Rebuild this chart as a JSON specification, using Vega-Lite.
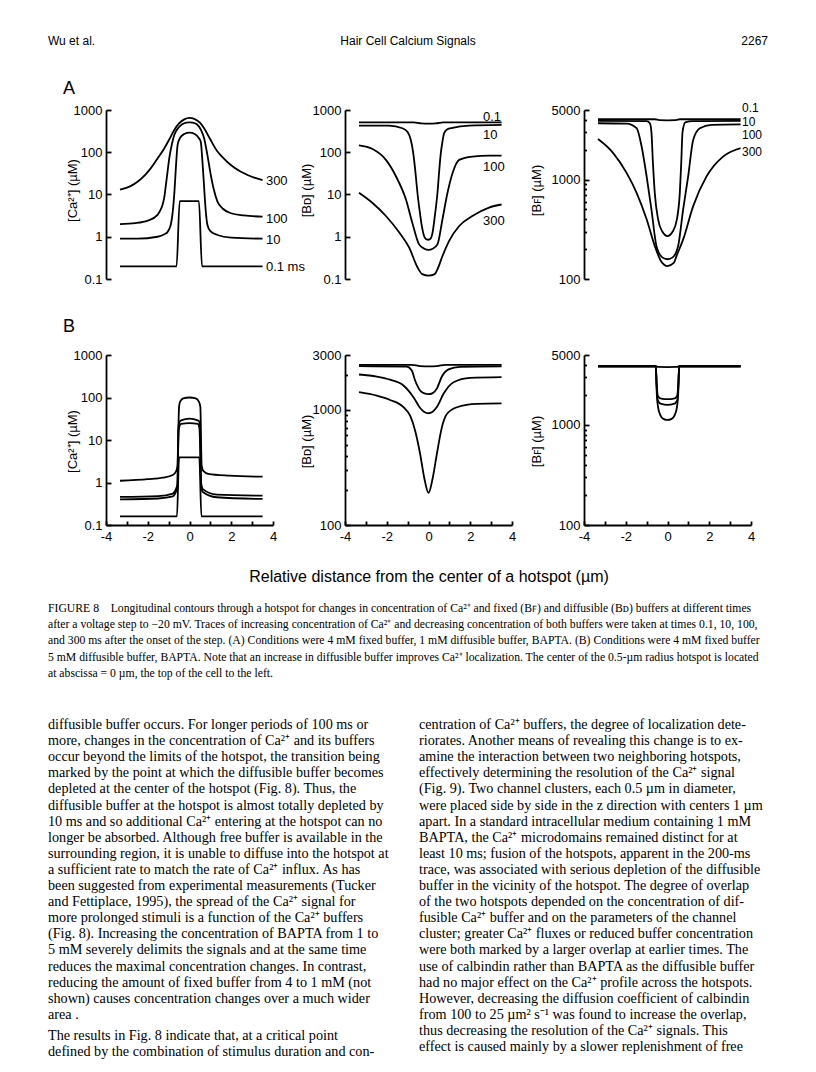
{
"$schema":"https://vega.github.io/schema/vega-lite/v6.json",
"background":"white",
"padding":{"left":48,"top":0,"right":0,"bottom":0},
"autosize":{"type":"pad"},
"columns":3,
"spacing":{"row":76,"column":72},
"bounds":"flush",
"config":{
 "view":{"stroke":null},
 "axis":{"domainColor":"#000","domainWidth":1.8,"tickColor":"#000","tickWidth":1.8,"labelFont":"Liberation Sans","labelFontSize":13,"labelColor":"#000","titleFont":"Liberation Sans","titleFontSize":13,"titleFontWeight":"normal","titleColor":"#000","grid":false,"labelFlush":false,"labelOverlap":false},
 "title":{"font":"Liberation Sans","fontSize":18,"fontWeight":"normal","color":"#000","anchor":"start","frame":"group"},
 "line":{"color":"#000","strokeWidth":1.8},
 "text":{"color":"#000"}
},
"datasets":{
"header":[{"slot":"l","line":0,"txt":"Wu et al."},{"slot":"c","line":0,"txt":"Hair Cell Calcium Signals"},{"slot":"r","line":0,"txt":"2267"}],
"caption":[
{"line":0,"txt":"FIGURE 8\u2003Longitudinal contours through a hotspot for changes in concentration of Ca²⁺ and fixed (Bꜰ) and diffusible (Bᴅ) buffers at different times"},
{"line":1,"txt":"after a voltage step to −20 mV. Traces of increasing concentration of Ca²⁺ and decreasing concentration of both buffers were taken at times 0.1, 10, 100,"},
{"line":2,"txt":"and 300 ms after the onset of the step. (A) Conditions were 4 mM fixed buffer, 1 mM diffusible buffer, BAPTA. (B) Conditions were 4 mM fixed buffer"},
{"line":3,"txt":"5 mM diffusible buffer, BAPTA. Note that an increase in diffusible buffer improves Ca²⁺ localization. The center of the 0.5-µm radius hotspot is located"},
{"line":4,"txt":"at abscissa = 0 µm, the top of the cell to the left."}
],
"body":[
{"col":"L","line":0,"txt":"diffusible buffer occurs. For longer periods of 100 ms or"},
{"col":"L","line":1,"txt":"more, changes in the concentration of Ca²⁺ and its buffers"},
{"col":"L","line":2,"txt":"occur beyond the limits of the hotspot, the transition being"},
{"col":"L","line":3,"txt":"marked by the point at which the diffusible buffer becomes"},
{"col":"L","line":4,"txt":"depleted at the center of the hotspot (Fig. 8). Thus, the"},
{"col":"L","line":5,"txt":"diffusible buffer at the hotspot is almost totally depleted by"},
{"col":"L","line":6,"txt":"10 ms and so additional Ca²⁺ entering at the hotspot can no"},
{"col":"L","line":7,"txt":"longer be absorbed. Although free buffer is available in the"},
{"col":"L","line":8,"txt":"surrounding region, it is unable to diffuse into the hotspot at"},
{"col":"L","line":9,"txt":"a sufficient rate to match the rate of Ca²⁺ influx. As has"},
{"col":"L","line":10,"txt":"been suggested from experimental measurements (Tucker"},
{"col":"L","line":11,"txt":"and Fettiplace, 1995), the spread of the Ca²⁺ signal for"},
{"col":"L","line":12,"txt":"more prolonged stimuli is a function of the Ca²⁺ buffers"},
{"col":"L","line":13,"txt":"(Fig. 8). Increasing the concentration of BAPTA from 1 to"},
{"col":"L","line":14,"txt":"5 mM severely delimits the signals and at the same time"},
{"col":"L","line":15,"txt":"reduces the maximal concentration changes. In contrast,"},
{"col":"L","line":16,"txt":"reducing the amount of fixed buffer from 4 to 1 mM (not"},
{"col":"L","line":17,"txt":"shown) causes concentration changes over a much wider"},
{"col":"L","line":18,"txt":"area ."},
{"col":"L","line":19.3,"txt":"\u2003The results in Fig. 8 indicate that, at a critical point"},
{"col":"L","line":20.3,"txt":"defined by the combination of stimulus duration and con-"},
{"col":"R","line":0,"txt":"centration of Ca²⁺ buffers, the degree of localization dete-"},
{"col":"R","line":1,"txt":"riorates. Another means of revealing this change is to ex-"},
{"col":"R","line":2,"txt":"amine the interaction between two neighboring hotspots,"},
{"col":"R","line":3,"txt":"effectively determining the resolution of the Ca²⁺ signal"},
{"col":"R","line":4,"txt":"(Fig. 9). Two channel clusters, each 0.5 µm in diameter,"},
{"col":"R","line":5,"txt":"were placed side by side in the z direction with centers 1 µm"},
{"col":"R","line":6,"txt":"apart. In a standard intracellular medium containing 1 mM"},
{"col":"R","line":7,"txt":"BAPTA, the Ca²⁺ microdomains remained distinct for at"},
{"col":"R","line":8,"txt":"least 10 ms; fusion of the hotspots, apparent in the 200-ms"},
{"col":"R","line":9,"txt":"trace, was associated with serious depletion of the diffusible"},
{"col":"R","line":10,"txt":"buffer in the vicinity of the hotspot. The degree of overlap"},
{"col":"R","line":11,"txt":"of the two hotspots depended on the concentration of dif-"},
{"col":"R","line":12,"txt":"fusible Ca²⁺ buffer and on the parameters of the channel"},
{"col":"R","line":13,"txt":"cluster; greater Ca²⁺ fluxes or reduced buffer concentration"},
{"col":"R","line":14,"txt":"were both marked by a larger overlap at earlier times. The"},
{"col":"R","line":15,"txt":"use of calbindin rather than BAPTA as the diffusible buffer"},
{"col":"R","line":16,"txt":"had no major effect on the Ca²⁺ profile across the hotspots."},
{"col":"R","line":17,"txt":"However, decreasing the diffusion coefficient of calbindin"},
{"col":"R","line":18,"txt":"from 100 to 25 µm² s⁻¹ was found to increase the overlap,"},
{"col":"R","line":19,"txt":"thus decreasing the resolution of the Ca²⁺ signals. This"},
{"col":"R","line":20,"txt":"effect is caused mainly by a slower replenishment of free"}
],
"labels":[
{"p":"A1","label":"300","x":3.66,"y":21},{"p":"A1","label":"100","x":3.66,"y":2.7},{"p":"A1","label":"10","x":3.66,"y":0.82},{"p":"A1","label":"0.1 ms","x":3.66,"y":0.19},
{"p":"A2","label":"0.1","x":2.61,"y":700},{"p":"A2","label":"10","x":2.61,"y":258},{"p":"A2","label":"100","x":2.61,"y":45},{"p":"A2","label":"300","x":2.61,"y":2.3},
{"p":"A3","label":"0.1","x":3.57,"y":5250},{"p":"A3","label":"10","x":3.57,"y":3750},{"p":"A3","label":"100","x":3.57,"y":2800},{"p":"A3","label":"300","x":3.57,"y":1900}
],
"curves":[
{"p":"A1","t":"0.1","x":-3.33,"y":0.2},{"p":"A1","t":"0.1","x":-0.62,"y":0.2},{"p":"A1","t":"0.1","x":-0.47,"y":7},{"p":"A1","t":"0.1","x":0.45,"y":7},{"p":"A1","t":"0.1","x":0.6,"y":0.2},{"p":"A1","t":"0.1","x":3.5,"y":0.2},
{"p":"A1","t":"10","x":-3.33,"y":0.9},{"p":"A1","t":"10","x":-2.5,"y":0.9},{"p":"A1","t":"10","x":-1.53,"y":1.0},{"p":"A1","t":"10","x":-1.2,"y":1.15},{"p":"A1","t":"10","x":-1.05,"y":1.3},{"p":"A1","t":"10","x":-0.95,"y":1.6},{"p":"A1","t":"10","x":-0.89,"y":2.0},{"p":"A1","t":"10","x":-0.8,"y":4},{"p":"A1","t":"10","x":-0.72,"y":12},{"p":"A1","t":"10","x":-0.65,"y":45},{"p":"A1","t":"10","x":-0.57,"y":150},{"p":"A1","t":"10","x":-0.45,"y":220},{"p":"A1","t":"10","x":-0.25,"y":270},{"p":"A1","t":"10","x":0,"y":290},{"p":"A1","t":"10","x":0.25,"y":270},{"p":"A1","t":"10","x":0.45,"y":215},{"p":"A1","t":"10","x":0.54,"y":178},{"p":"A1","t":"10","x":0.62,"y":60},{"p":"A1","t":"10","x":0.7,"y":15},{"p":"A1","t":"10","x":0.78,"y":4},{"p":"A1","t":"10","x":0.86,"y":1.9},{"p":"A1","t":"10","x":1.0,"y":1.35},{"p":"A1","t":"10","x":1.34,"y":1.1},{"p":"A1","t":"10","x":2.0,"y":0.95},{"p":"A1","t":"10","x":3.5,"y":0.9},
{"p":"A1","t":"100","x":-3.33,"y":2.0},{"p":"A1","t":"100","x":-2.6,"y":2.1},{"p":"A1","t":"100","x":-2.0,"y":2.4},{"p":"A1","t":"100","x":-1.53,"y":3.3},{"p":"A1","t":"100","x":-1.4,"y":4.2},{"p":"A1","t":"100","x":-1.29,"y":5.7},{"p":"A1","t":"100","x":-1.2,"y":9},{"p":"A1","t":"100","x":-1.13,"y":17},{"p":"A1","t":"100","x":-1.05,"y":35},{"p":"A1","t":"100","x":-0.97,"y":72},{"p":"A1","t":"100","x":-0.85,"y":150},{"p":"A1","t":"100","x":-0.73,"y":256},{"p":"A1","t":"100","x":-0.55,"y":370},{"p":"A1","t":"100","x":-0.35,"y":460},{"p":"A1","t":"100","x":-0.15,"y":505},{"p":"A1","t":"100","x":0,"y":512},{"p":"A1","t":"100","x":0.15,"y":505},{"p":"A1","t":"100","x":0.35,"y":460},{"p":"A1","t":"100","x":0.55,"y":340},{"p":"A1","t":"100","x":0.7,"y":214},{"p":"A1","t":"100","x":0.85,"y":90},{"p":"A1","t":"100","x":1.02,"y":29},{"p":"A1","t":"100","x":1.15,"y":14},{"p":"A1","t":"100","x":1.34,"y":6.8},{"p":"A1","t":"100","x":1.6,"y":4.6},{"p":"A1","t":"100","x":1.98,"y":3.6},{"p":"A1","t":"100","x":2.6,"y":3.2},{"p":"A1","t":"100","x":3.5,"y":3.0},
{"p":"A1","t":"300","x":-3.33,"y":13},{"p":"A1","t":"300","x":-2.8,"y":16},{"p":"A1","t":"300","x":-2.49,"y":20},{"p":"A1","t":"300","x":-2.1,"y":30},{"p":"A1","t":"300","x":-1.85,"y":42},{"p":"A1","t":"300","x":-1.5,"y":75},{"p":"A1","t":"300","x":-1.21,"y":123},{"p":"A1","t":"300","x":-0.95,"y":210},{"p":"A1","t":"300","x":-0.73,"y":337},{"p":"A1","t":"300","x":-0.5,"y":480},{"p":"A1","t":"300","x":-0.25,"y":600},{"p":"A1","t":"300","x":0,"y":650},{"p":"A1","t":"300","x":0.25,"y":610},{"p":"A1","t":"300","x":0.5,"y":500},{"p":"A1","t":"300","x":0.7,"y":370},{"p":"A1","t":"300","x":1.0,"y":200},{"p":"A1","t":"300","x":1.34,"y":104},{"p":"A1","t":"300","x":1.6,"y":75},{"p":"A1","t":"300","x":1.98,"y":50},{"p":"A1","t":"300","x":2.4,"y":36},{"p":"A1","t":"300","x":2.78,"y":29},{"p":"A1","t":"300","x":3.1,"y":25},{"p":"A1","t":"300","x":3.5,"y":22},
{"p":"A2","t":"0.1","x":-3.33,"y":510},{"p":"A2","t":"0.1","x":-0.7,"y":510},{"p":"A2","t":"0.1","x":-0.35,"y":480},{"p":"A2","t":"0.1","x":0,"y":475},{"p":"A2","t":"0.1","x":0.35,"y":480},{"p":"A2","t":"0.1","x":0.7,"y":510},{"p":"A2","t":"0.1","x":3.5,"y":510},
{"p":"A2","t":"10","x":-3.33,"y":428},{"p":"A2","t":"10","x":-1.9,"y":425},{"p":"A2","t":"10","x":-1.25,"y":370},{"p":"A2","t":"10","x":-1.0,"y":300},{"p":"A2","t":"10","x":-0.85,"y":197},{"p":"A2","t":"10","x":-0.75,"y":110},{"p":"A2","t":"10","x":-0.69,"y":66},{"p":"A2","t":"10","x":-0.6,"y":25},{"p":"A2","t":"10","x":-0.53,"y":11},{"p":"A2","t":"10","x":-0.42,"y":4},{"p":"A2","t":"10","x":-0.32,"y":1.8},{"p":"A2","t":"10","x":-0.2,"y":1.0},{"p":"A2","t":"10","x":-0.1,"y":0.87},{"p":"A2","t":"10","x":0,"y":0.85},{"p":"A2","t":"10","x":0.1,"y":0.9},{"p":"A2","t":"10","x":0.2,"y":1.3},{"p":"A2","t":"10","x":0.3,"y":3},{"p":"A2","t":"10","x":0.43,"y":11},{"p":"A2","t":"10","x":0.52,"y":40},{"p":"A2","t":"10","x":0.59,"y":95},{"p":"A2","t":"10","x":0.67,"y":180},{"p":"A2","t":"10","x":0.75,"y":283},{"p":"A2","t":"10","x":0.9,"y":350},{"p":"A2","t":"10","x":1.15,"y":380},{"p":"A2","t":"10","x":1.95,"y":428},{"p":"A2","t":"10","x":3.5,"y":445},
{"p":"A2","t":"100","x":-3.33,"y":145},{"p":"A2","t":"100","x":-2.68,"y":119},{"p":"A2","t":"100","x":-2.04,"y":66},{"p":"A2","t":"100","x":-1.56,"y":27},{"p":"A2","t":"100","x":-1.08,"y":7.6},{"p":"A2","t":"100","x":-0.77,"y":2.1},{"p":"A2","t":"100","x":-0.45,"y":0.66},{"p":"A2","t":"100","x":-0.2,"y":0.52},{"p":"A2","t":"100","x":0,"y":0.49},{"p":"A2","t":"100","x":0.2,"y":0.52},{"p":"A2","t":"100","x":0.43,"y":0.66},{"p":"A2","t":"100","x":0.67,"y":2.6},{"p":"A2","t":"100","x":0.91,"y":11},{"p":"A2","t":"100","x":1.15,"y":32},{"p":"A2","t":"100","x":1.47,"y":66},{"p":"A2","t":"100","x":2.1,"y":79},{"p":"A2","t":"100","x":2.9,"y":83},{"p":"A2","t":"100","x":3.5,"y":83},
{"p":"A2","t":"300","x":-3.33,"y":11},{"p":"A2","t":"300","x":-2.68,"y":6.3},{"p":"A2","t":"300","x":-2.04,"y":3.1},{"p":"A2","t":"300","x":-1.4,"y":1.26},{"p":"A2","t":"300","x":-0.93,"y":0.56},{"p":"A2","t":"300","x":-0.53,"y":0.19},{"p":"A2","t":"300","x":-0.3,"y":0.13},{"p":"A2","t":"300","x":0,"y":0.12},{"p":"A2","t":"300","x":0.3,"y":0.13},{"p":"A2","t":"300","x":0.43,"y":0.17},{"p":"A2","t":"300","x":0.67,"y":0.35},{"p":"A2","t":"300","x":0.99,"y":0.8},{"p":"A2","t":"300","x":1.47,"y":1.8},{"p":"A2","t":"300","x":2.1,"y":3.1},{"p":"A2","t":"300","x":2.9,"y":4.9},{"p":"A2","t":"300","x":3.5,"y":5.8},
{"p":"A3","t":"0.1","x":-3.33,"y":4035},{"p":"A3","t":"0.1","x":-0.6,"y":4035},{"p":"A3","t":"0.1","x":-0.4,"y":3950},{"p":"A3","t":"0.1","x":0,"y":3940},{"p":"A3","t":"0.1","x":0.4,"y":3950},{"p":"A3","t":"0.1","x":0.6,"y":4035},{"p":"A3","t":"0.1","x":3.5,"y":4035},
{"p":"A3","t":"10","x":-3.33,"y":3880},{"p":"A3","t":"10","x":-1.0,"y":3870},{"p":"A3","t":"10","x":-0.85,"y":3700},{"p":"A3","t":"10","x":-0.77,"y":3000},{"p":"A3","t":"10","x":-0.7,"y":1500},{"p":"A3","t":"10","x":-0.61,"y":735},{"p":"A3","t":"10","x":-0.45,"y":398},{"p":"A3","t":"10","x":-0.25,"y":300},{"p":"A3","t":"10","x":0,"y":270},{"p":"A3","t":"10","x":0.25,"y":300},{"p":"A3","t":"10","x":0.45,"y":398},{"p":"A3","t":"10","x":0.59,"y":735},{"p":"A3","t":"10","x":0.66,"y":1500},{"p":"A3","t":"10","x":0.72,"y":3000},{"p":"A3","t":"10","x":0.85,"y":3750},{"p":"A3","t":"10","x":1.2,"y":3870},{"p":"A3","t":"10","x":3.5,"y":3880},
{"p":"A3","t":"100","x":-3.33,"y":3680},{"p":"A3","t":"100","x":-1.96,"y":3650},{"p":"A3","t":"100","x":-1.48,"y":3280},{"p":"A3","t":"100","x":-1.24,"y":2150},{"p":"A3","t":"100","x":-1.0,"y":1075},{"p":"A3","t":"100","x":-0.77,"y":500},{"p":"A3","t":"100","x":-0.53,"y":215},{"p":"A3","t":"100","x":-0.25,"y":165},{"p":"A3","t":"100","x":0,"y":158},{"p":"A3","t":"100","x":0.25,"y":165},{"p":"A3","t":"100","x":0.51,"y":215},{"p":"A3","t":"100","x":0.75,"y":500},{"p":"A3","t":"100","x":0.99,"y":1075},{"p":"A3","t":"100","x":1.23,"y":2500},{"p":"A3","t":"100","x":1.55,"y":3280},{"p":"A3","t":"100","x":2.1,"y":3540},{"p":"A3","t":"100","x":3.5,"y":3580},
{"p":"A3","t":"300","x":-3.33,"y":2550},{"p":"A3","t":"300","x":-2.6,"y":1845},{"p":"A3","t":"300","x":-1.96,"y":1165},{"p":"A3","t":"300","x":-1.48,"y":735},{"p":"A3","t":"300","x":-1.0,"y":398},{"p":"A3","t":"300","x":-0.61,"y":215},{"p":"A3","t":"300","x":-0.3,"y":150},{"p":"A3","t":"300","x":0,"y":135},{"p":"A3","t":"300","x":0.3,"y":145},{"p":"A3","t":"300","x":0.43,"y":170},{"p":"A3","t":"300","x":0.75,"y":250},{"p":"A3","t":"300","x":1.23,"y":540},{"p":"A3","t":"300","x":1.87,"y":1075},{"p":"A3","t":"300","x":2.66,"y":1700},{"p":"A3","t":"300","x":3.5,"y":2070},
{"p":"B1","t":"0.1","x":-3.33,"y":0.16},{"p":"B1","t":"0.1","x":-0.6,"y":0.16},{"p":"B1","t":"0.1","x":-0.5,"y":3.9},{"p":"B1","t":"0.1","x":0.47,"y":3.9},{"p":"B1","t":"0.1","x":0.57,"y":0.16},{"p":"B1","t":"0.1","x":3.5,"y":0.16},
{"p":"B1","t":"10","x":-3.33,"y":0.4},{"p":"B1","t":"10","x":-1.5,"y":0.42},{"p":"B1","t":"10","x":-0.8,"y":0.47},{"p":"B1","t":"10","x":-0.65,"y":0.6},{"p":"B1","t":"10","x":-0.58,"y":0.75},{"p":"B1","t":"10","x":-0.52,"y":18},{"p":"B1","t":"10","x":-0.4,"y":24},{"p":"B1","t":"10","x":0,"y":25},{"p":"B1","t":"10","x":0.4,"y":24},{"p":"B1","t":"10","x":0.48,"y":18},{"p":"B1","t":"10","x":0.56,"y":0.8},{"p":"B1","t":"10","x":0.64,"y":0.6},{"p":"B1","t":"10","x":1.3,"y":0.45},{"p":"B1","t":"10","x":3.5,"y":0.41},
{"p":"B1","t":"100","x":-3.33,"y":0.46},{"p":"B1","t":"100","x":-1.5,"y":0.48},{"p":"B1","t":"100","x":-0.8,"y":0.55},{"p":"B1","t":"100","x":-0.65,"y":0.7},{"p":"B1","t":"100","x":-0.58,"y":0.9},{"p":"B1","t":"100","x":-0.52,"y":22},{"p":"B1","t":"100","x":-0.45,"y":28},{"p":"B1","t":"100","x":-0.2,"y":31},{"p":"B1","t":"100","x":0,"y":32},{"p":"B1","t":"100","x":0.2,"y":31},{"p":"B1","t":"100","x":0.45,"y":28},{"p":"B1","t":"100","x":0.5,"y":22},{"p":"B1","t":"100","x":0.56,"y":0.95},{"p":"B1","t":"100","x":0.64,"y":0.7},{"p":"B1","t":"100","x":1.3,"y":0.52},{"p":"B1","t":"100","x":3.5,"y":0.49},
{"p":"B1","t":"300","x":-3.33,"y":1.1},{"p":"B1","t":"300","x":-2.0,"y":1.2},{"p":"B1","t":"300","x":-1.28,"y":1.3},{"p":"B1","t":"300","x":-0.8,"y":1.5},{"p":"B1","t":"300","x":-0.65,"y":1.8},{"p":"B1","t":"300","x":-0.58,"y":2.4},{"p":"B1","t":"300","x":-0.5,"y":60},{"p":"B1","t":"300","x":-0.45,"y":80},{"p":"B1","t":"300","x":-0.3,"y":95},{"p":"B1","t":"300","x":0,"y":100},{"p":"B1","t":"300","x":0.3,"y":95},{"p":"B1","t":"300","x":0.45,"y":80},{"p":"B1","t":"300","x":0.52,"y":60},{"p":"B1","t":"300","x":0.58,"y":2.6},{"p":"B1","t":"300","x":0.65,"y":1.9},{"p":"B1","t":"300","x":0.9,"y":1.6},{"p":"B1","t":"300","x":1.9,"y":1.45},{"p":"B1","t":"300","x":3.5,"y":1.37},
{"p":"B2","t":"0.1","x":-3.33,"y":2465},{"p":"B2","t":"0.1","x":-0.8,"y":2465},{"p":"B2","t":"0.1","x":-0.4,"y":2400},{"p":"B2","t":"0.1","x":0,"y":2390},{"p":"B2","t":"0.1","x":0.4,"y":2400},{"p":"B2","t":"0.1","x":0.8,"y":2465},{"p":"B2","t":"0.1","x":3.5,"y":2465},
{"p":"B2","t":"10","x":-3.33,"y":2400},{"p":"B2","t":"10","x":-1.04,"y":2380},{"p":"B2","t":"10","x":-0.8,"y":2200},{"p":"B2","t":"10","x":-0.64,"y":1800},{"p":"B2","t":"10","x":-0.4,"y":1475},{"p":"B2","t":"10","x":-0.2,"y":1390},{"p":"B2","t":"10","x":0,"y":1370},{"p":"B2","t":"10","x":0.2,"y":1400},{"p":"B2","t":"10","x":0.4,"y":1530},{"p":"B2","t":"10","x":0.64,"y":1950},{"p":"B2","t":"10","x":0.96,"y":2250},{"p":"B2","t":"10","x":1.5,"y":2370},{"p":"B2","t":"10","x":3.5,"y":2390},
{"p":"B2","t":"100","x":-3.33,"y":2030},{"p":"B2","t":"100","x":-2.48,"y":1950},{"p":"B2","t":"100","x":-1.84,"y":1830},{"p":"B2","t":"100","x":-1.2,"y":1630},{"p":"B2","t":"100","x":-0.72,"y":1290},{"p":"B2","t":"100","x":-0.4,"y":1040},{"p":"B2","t":"100","x":-0.2,"y":960},{"p":"B2","t":"100","x":0,"y":935},{"p":"B2","t":"100","x":0.2,"y":965},{"p":"B2","t":"100","x":0.4,"y":1060},{"p":"B2","t":"100","x":0.72,"y":1380},{"p":"B2","t":"100","x":1.2,"y":1740},{"p":"B2","t":"100","x":2.0,"y":1900},{"p":"B2","t":"100","x":3.5,"y":1930},
{"p":"B2","t":"300","x":-3.33,"y":1425},{"p":"B2","t":"300","x":-2.48,"y":1330},{"p":"B2","t":"300","x":-1.84,"y":1220},{"p":"B2","t":"300","x":-1.2,"y":1055},{"p":"B2","t":"300","x":-0.88,"y":890},{"p":"B2","t":"300","x":-0.64,"y":660},{"p":"B2","t":"300","x":-0.4,"y":414},{"p":"B2","t":"300","x":-0.21,"y":260},{"p":"B2","t":"300","x":0,"y":190},{"p":"B2","t":"300","x":0.21,"y":260},{"p":"B2","t":"300","x":0.4,"y":414},{"p":"B2","t":"300","x":0.64,"y":705},{"p":"B2","t":"300","x":0.88,"y":920},{"p":"B2","t":"300","x":1.36,"y":1055},{"p":"B2","t":"300","x":2.32,"y":1130},{"p":"B2","t":"300","x":3.5,"y":1140},
{"p":"B3","t":"0.1","x":-3.33,"y":3860},{"p":"B3","t":"0.1","x":-0.55,"y":3860},{"p":"B3","t":"0.1","x":-0.45,"y":3800},{"p":"B3","t":"0.1","x":0,"y":3790},{"p":"B3","t":"0.1","x":0.45,"y":3800},{"p":"B3","t":"0.1","x":0.55,"y":3860},{"p":"B3","t":"0.1","x":3.5,"y":3860},
{"p":"B3","t":"10","x":-3.33,"y":3860},{"p":"B3","t":"10","x":-0.56,"y":3860},{"p":"B3","t":"10","x":-0.52,"y":2600},{"p":"B3","t":"10","x":-0.46,"y":1950},{"p":"B3","t":"10","x":-0.3,"y":1830},{"p":"B3","t":"10","x":0,"y":1808},{"p":"B3","t":"10","x":0.3,"y":1830},{"p":"B3","t":"10","x":0.46,"y":1950},{"p":"B3","t":"10","x":0.52,"y":2600},{"p":"B3","t":"10","x":0.56,"y":3860},{"p":"B3","t":"10","x":3.5,"y":3860},
{"p":"B3","t":"100","x":-3.33,"y":3860},{"p":"B3","t":"100","x":-0.56,"y":3860},{"p":"B3","t":"100","x":-0.52,"y":2400},{"p":"B3","t":"100","x":-0.46,"y":1750},{"p":"B3","t":"100","x":-0.3,"y":1620},{"p":"B3","t":"100","x":0,"y":1585},{"p":"B3","t":"100","x":0.3,"y":1620},{"p":"B3","t":"100","x":0.46,"y":1750},{"p":"B3","t":"100","x":0.52,"y":2400},{"p":"B3","t":"100","x":0.56,"y":3860},{"p":"B3","t":"100","x":3.5,"y":3860},
{"p":"B3","t":"300","x":-3.33,"y":3860},{"p":"B3","t":"300","x":-0.56,"y":3860},{"p":"B3","t":"300","x":-0.51,"y":2000},{"p":"B3","t":"300","x":-0.45,"y":1500},{"p":"B3","t":"300","x":-0.35,"y":1260},{"p":"B3","t":"300","x":-0.2,"y":1150},{"p":"B3","t":"300","x":0,"y":1122},{"p":"B3","t":"300","x":0.2,"y":1150},{"p":"B3","t":"300","x":0.35,"y":1260},{"p":"B3","t":"300","x":0.45,"y":1500},{"p":"B3","t":"300","x":0.51,"y":2000},{"p":"B3","t":"300","x":0.56,"y":3860},{"p":"B3","t":"300","x":3.5,"y":3860}
]
},
"concat":[
{"width":167,"height":34,"data":{"name":"header"},
 "encoding":{"x":{"field":"slot","type":"nominal","scale":{"type":"point","domain":["l","c","r"],"range":[-58,662],"padding":0},"axis":null},
  "y":{"field":"line","type":"quantitative","scale":{"domain":[0,1],"range":[41,57]},"axis":null},
  "text":{"field":"txt"}},
 "layer":[
  {"transform":[{"filter":"datum.slot=='l'"}],"mark":{"type":"text","align":"left","baseline":"middle","font":"Liberation Sans","fontSize":12}},
  {"transform":[{"filter":"datum.slot=='c'"}],"mark":{"type":"text","align":"center","baseline":"middle","font":"Liberation Sans","fontSize":12}},
  {"transform":[{"filter":"datum.slot=='r'"}],"mark":{"type":"text","align":"right","baseline":"middle","font":"Liberation Sans","fontSize":12}}
 ]},
{"width":167,"height":34,"data":{"values":[{"a":1}]},"mark":{"type":"text","text":"","fontSize":1}},
{"width":167,"height":34,"data":{"values":[{"a":1}]},"mark":{"type":"text","text":"","fontSize":1}},
{"width":167,"height":169,"title":{"text":"A","dx":-43,"offset":-8,"baseline":"alphabetic"},
 "layer":[
  {"data":{"name":"curves"},"transform":[{"filter":"datum.p=='A1'"}],"mark":{"type":"line","interpolate":"monotone"},
   "encoding":{"x":{"field":"x","type":"quantitative","scale":{"domain":[-4,4],"nice":false,"zero":false},"axis":null},
    "y":{"field":"y","type":"quantitative","scale":{"type":"log","domain":[0.1,1000],"nice":false},"axis":{"values":[0.1,1,10,100,1000],"format":"~g","tickSize":-5,"labelPadding":9,"title":"[Ca²⁺] (µM)","titleX":-29.5,"titleY":80,"titleAngle":270,"titleAlign":"center","titleBaseline":"alphabetic"}},
    "detail":{"field":"t"}}},
  {"data":{"name":"labels"},"transform":[{"filter":"datum.p=='A1'"}],"mark":{"type":"text","align":"left","baseline":"middle","font":"Liberation Sans","fontSize":13},
   "encoding":{"x":{"field":"x","type":"quantitative"},"y":{"field":"y","type":"quantitative"},"text":{"field":"label"}}}
 ]},
{"width":167,"height":169,
 "layer":[
  {"data":{"name":"curves"},"transform":[{"filter":"datum.p=='A2'"}],"mark":{"type":"line","interpolate":"monotone"},
   "encoding":{"x":{"field":"x","type":"quantitative","scale":{"domain":[-4,4],"nice":false,"zero":false},"axis":null},
    "y":{"field":"y","type":"quantitative","scale":{"type":"log","domain":[0.1,1000],"nice":false},"axis":{"values":[0.1,1,10,100,1000],"format":"~g","tickSize":-5,"labelPadding":9,"title":"[Bᴅ] (µM)","titleX":-34.5,"titleY":80,"titleAngle":270,"titleAlign":"center","titleBaseline":"alphabetic"}},
    "detail":{"field":"t"}}},
  {"data":{"name":"labels"},"transform":[{"filter":"datum.p=='A2'"}],"mark":{"type":"text","align":"left","baseline":"middle","font":"Liberation Sans","fontSize":13},
   "encoding":{"x":{"field":"x","type":"quantitative"},"y":{"field":"y","type":"quantitative"},"text":{"field":"label"}}}
 ]},
{"width":167,"height":169,
 "layer":[
  {"data":{"name":"curves"},"transform":[{"filter":"datum.p=='A3'"}],"mark":{"type":"line","interpolate":"monotone"},
   "encoding":{"x":{"field":"x","type":"quantitative","scale":{"domain":[-4,4],"nice":false,"zero":false},"axis":null},
    "y":{"field":"y","type":"quantitative","scale":{"type":"log","domain":[100,5000],"nice":false},"axis":{"values":[100,200,300,400,500,600,700,800,900,1000,2000,3000,4000,5000],"format":"~g","labelExpr":"indexof([100,1000,5000], datum.value) >= 0 ? datum.label : ''","tickSize":{"condition":{"test":"indexof([100,1000,5000], datum.value) >= 0","value":-5},"value":-2.5},"labelPadding":9,"title":"[Bꜰ] (µM)","titleX":-43.5,"titleY":80,"titleAngle":270,"titleAlign":"center","titleBaseline":"alphabetic"}},
    "detail":{"field":"t"}}},
  {"data":{"name":"labels"},"transform":[{"filter":"datum.p=='A3'"}],"mark":{"type":"text","align":"left","baseline":"middle","font":"Liberation Sans","fontSize":12},
   "encoding":{"x":{"field":"x","type":"quantitative"},"y":{"field":"y","type":"quantitative"},"text":{"field":"label"}}}
 ]},
{"width":167,"height":170,"title":{"text":"B","dx":-43,"offset":-1,"baseline":"alphabetic"},
 "data":{"name":"curves"},"transform":[{"filter":"datum.p=='B1'"}],"mark":{"type":"line","interpolate":"monotone"},
 "encoding":{"x":{"field":"x","type":"quantitative","scale":{"domain":[-4,4],"nice":false,"zero":false},"axis":{"values":[-4,-3,-2,-1,0,1,2,3,4],"labelExpr":"datum.value % 2 == 0 ? replace(datum.label, '\u2212', '-') : ''","tickSize":-4,"labelPadding":9,"title":null}},
  "y":{"field":"y","type":"quantitative","scale":{"type":"log","domain":[0.1,1000],"nice":false},"axis":{"values":[0.1,1,10,100,1000],"format":"~g","tickSize":-5,"labelPadding":9,"title":"[Ca²⁺] (µM)","titleX":-29.5,"titleY":86,"titleAngle":270,"titleAlign":"center","titleBaseline":"alphabetic"}},
  "detail":{"field":"t"}}},
{"width":167,"height":170,
 "data":{"name":"curves"},"transform":[{"filter":"datum.p=='B2'"}],"mark":{"type":"line","interpolate":"monotone"},
 "encoding":{"x":{"field":"x","type":"quantitative","scale":{"domain":[-4,4],"nice":false,"zero":false},"axis":{"values":[-4,-3,-2,-1,0,1,2,3,4],"labelExpr":"datum.value % 2 == 0 ? replace(datum.label, '\u2212', '-') : ''","tickSize":-4,"labelPadding":9,"title":"Relative distance from the center of a hotspot (µm)","titleFontSize":16,"titlePadding":25}},
  "y":{"field":"y","type":"quantitative","scale":{"type":"log","domain":[100,3000],"nice":false},"axis":{"values":[100,200,300,400,500,600,700,800,900,1000,2000,3000],"format":"~g","labelExpr":"indexof([100,1000,3000], datum.value) >= 0 ? datum.label : ''","tickSize":{"condition":{"test":"indexof([100,1000,3000], datum.value) >= 0","value":-5},"value":-2.5},"labelPadding":9,"title":"[Bᴅ] (µM)","titleX":-34.5,"titleY":86,"titleAngle":270,"titleAlign":"center","titleBaseline":"alphabetic"}},
  "detail":{"field":"t"}}},
{"width":167,"height":170,
 "data":{"name":"curves"},"transform":[{"filter":"datum.p=='B3'"}],"mark":{"type":"line","interpolate":"monotone"},
 "encoding":{"x":{"field":"x","type":"quantitative","scale":{"domain":[-4,4],"nice":false,"zero":false},"axis":{"values":[-4,-3,-2,-1,0,1,2,3,4],"labelExpr":"datum.value % 2 == 0 ? replace(datum.label, '\u2212', '-') : ''","tickSize":-4,"labelPadding":9,"title":null}},
  "y":{"field":"y","type":"quantitative","scale":{"type":"log","domain":[100,5000],"nice":false},"axis":{"values":[100,200,300,400,500,600,700,800,900,1000,2000,3000,4000,5000],"format":"~g","labelExpr":"indexof([100,1000,5000], datum.value) >= 0 ? datum.label : ''","tickSize":{"condition":{"test":"indexof([100,1000,5000], datum.value) >= 0","value":-5},"value":-2.5},"labelPadding":9,"title":"[Bꜰ] (µM)","titleX":-43.5,"titleY":86,"titleAngle":270,"titleAlign":"center","titleBaseline":"alphabetic"}},
  "detail":{"field":"t"}}},
{"width":167,"height":48,"data":{"name":"caption"},"mark":{"type":"text","align":"left","baseline":"middle","font":"Liberation Serif","fontSize":11.7},
 "encoding":{"x":{"datum":0,"type":"quantitative","scale":{"domain":[0,1],"range":[-58,662]},"axis":null},
  "y":{"field":"line","type":"quantitative","scale":{"domain":[0,4],"range":[7,71.8]},"axis":null},
  "text":{"field":"txt"}}},
{"width":167,"height":48,"data":{"values":[{"a":1}]},"mark":{"type":"text","text":"","fontSize":1}},
{"width":167,"height":48,"data":{"values":[{"a":1}]},"mark":{"type":"text","text":"","fontSize":1}},
{"width":167,"height":322,"data":{"name":"body"},"transform":[{"filter":"datum.col=='L'"}],"mark":{"type":"text","align":"left","baseline":"middle","font":"Liberation Serif","fontSize":14.2},
 "encoding":{"x":{"datum":0,"type":"quantitative","scale":{"domain":[0,1],"range":[-58,287]},"axis":null},
  "y":{"field":"line","type":"quantitative","scale":{"domain":[0,20],"range":[0,322]},"axis":null},
  "text":{"field":"txt"}}},
{"width":167,"height":322,"data":{"name":"body"},"transform":[{"filter":"datum.col=='R'"}],"mark":{"type":"text","align":"left","baseline":"middle","font":"Liberation Serif","fontSize":14.2},
 "encoding":{"x":{"datum":0,"type":"quantitative","scale":{"domain":[0,1],"range":[74,423]},"axis":null},
  "y":{"field":"line","type":"quantitative","scale":{"domain":[0,20],"range":[0,322]},"axis":null},
  "text":{"field":"txt"}}}
]
}
